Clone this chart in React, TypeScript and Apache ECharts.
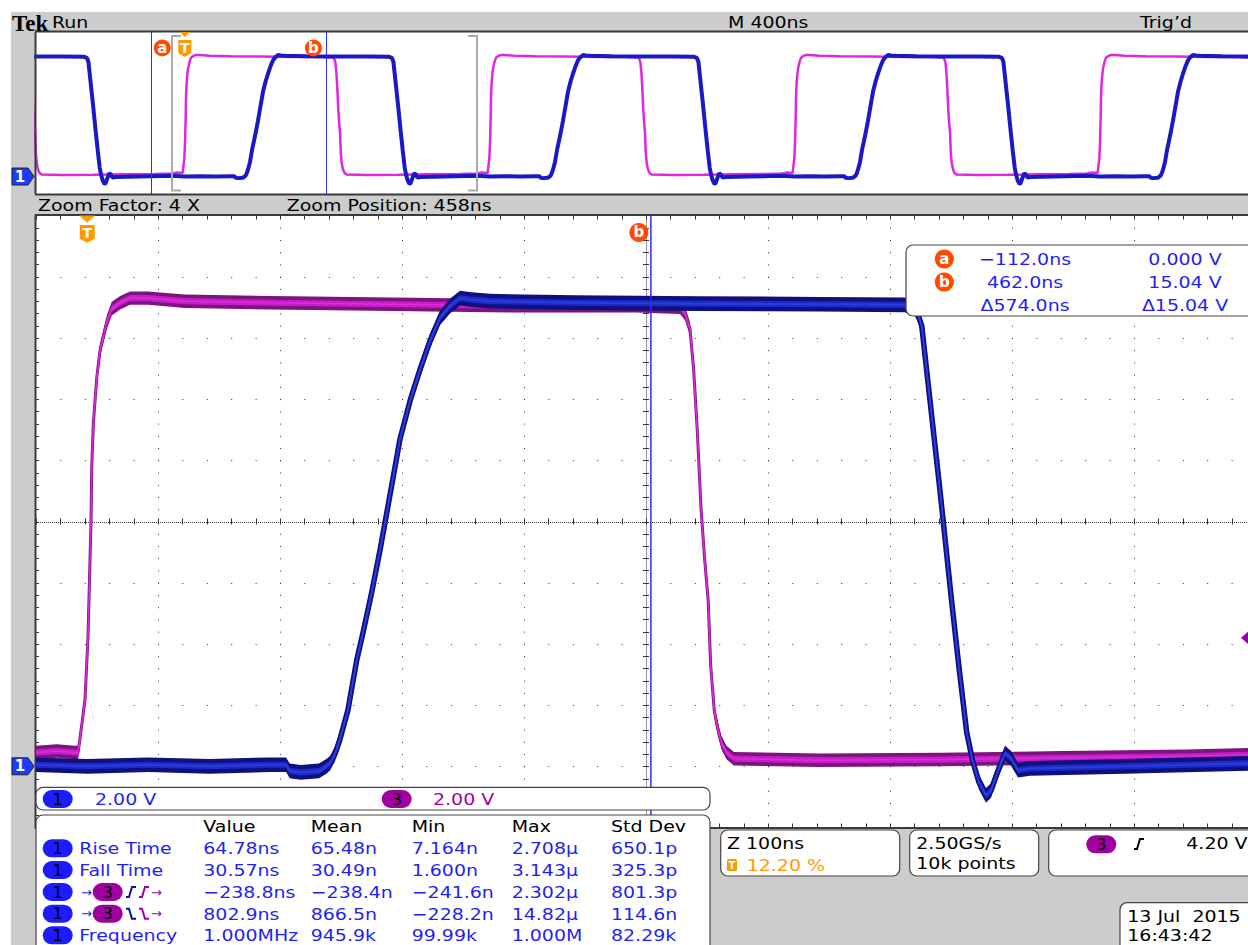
import React, { useEffect, useRef } from "react";
import * as echarts from "echarts";

// ---------------- data ----------------
// time in ns (trigger = 0), level in volts
const RECORD_START_NS = -488;
const RECORD_END_NS = 3512;
const ZOOM_START_NS = -42;
const ZOOM_END_NS = 958;
const ZOOM_CENTER_NS = 458;
const ZOOM_FACTOR = 4;
const PERIOD_NS = 1000; // 1.000 MHz
const OVERVIEW_CYCLES = [-1, 0, 1, 2, 3];
const CURSOR_A_NS = -112;
const CURSOR_B_NS = 462;
const TRIGGER_NS = 0;
const TRIGGER_LEVEL_V = 4.2;
const VOLT_MIN = -2;
const VOLT_MAX = 18;
const VOLT_CENTER = 8;
const OV_VOLT_MIN = -2.2;
const OV_VOLT_MAX = 18.2;

// Channel 3 (magenta) in the zoom window
const ch3Zoom: [number, number][] = [
  [-42, 0.45], [-25, 0.5], [-10, 0.45], [-7.5, 0.45], [-6, 0.9], [-4, 1.5], [-1.8, 2.2],
  [0.6, 4.2], [3.1, 8.0], [3.7, 9.8], [5.0, 11.2], [7.8, 12.7], [10.5, 13.6], [16, 14.5],
  [20, 14.95], [27, 15.15], [35, 15.3], [50, 15.3], [80, 15.2], [150, 15.15], [250, 15.1],
  [350, 15.05], [450, 15.05], [486, 15.0], [490, 14.8], [494, 14.3], [497, 13.0], [500, 11.0],
  [503, 8.5], [506, 6.8], [509, 5.4], [511, 3.3], [514, 1.8], [517, 1.2], [520, 0.75],
  [524, 0.45], [530, 0.25], [600, 0.2], [700, 0.22], [800, 0.28], [900, 0.33], [958, 0.38],
];

// Channel 1 (blue) in the zoom window
const ch1Zoom: [number, number][] = [
  [-42, 0.05], [0, 0.0], [50, 0.05], [100, 0.0], [150, 0.05], [163, 0.05], [166, -0.15],
  [175, -0.2], [190, -0.15], [196, 0.0], [199, 0.1], [203, 0.4], [207, 0.86], [213.7, 1.84],
  [220.9, 3.47], [226, 4.36], [233.1, 5.67], [240, 7.07], [245.5, 8.28], [256.4, 10.7],
  [265, 12.0], [272.8, 12.97], [281, 13.9], [289.1, 14.65], [297.3, 15.04], [305.5, 15.3],
  [315, 15.25], [330, 15.2], [400, 15.15], [500, 15.12], [600, 15.1], [670, 15.08],
  [678.5, 14.95], [681, 14.75], [684, 14.4], [690.8, 11.95], [699, 9.0], [708.4, 5.44],
  [714.5, 3.25], [720.9, 1.1], [725.6, 0.2], [730.9, -0.52], [736.7, -0.95], [740.8, -0.79],
  [745.7, -0.23], [752.3, 0.43], [757.2, 0.26], [762.9, -0.13], [772.8, -0.07], [850, 0.0],
  [958, 0.1],
];

const cursorRows = [
  ["a", "−112.0ns", "0.000 V"],
  ["b", "462.0ns", "15.04 V"],
  ["", "Δ574.0ns", "Δ15.04 V"],
];
const measHeaders = ["Value", "Mean", "Min", "Max", "Std Dev"];
const measNames = ["Rise Time", "Fall Time", "", "", "Frequency"];
const measValue = ["64.78ns", "30.57ns", "−238.8ns", "802.9ns", "1.000MHz"];
const measMean = ["65.48n", "30.49n", "−238.4n", "866.5n", "945.9k"];
const measMin = ["7.164n", "1.600n", "−241.6n", "−228.2n", "99.99k"];
const measMax = ["2.708µ", "3.143µ", "2.302µ", "14.82µ", "1.000M"];
const measStd = ["650.1p", "325.3p", "801.3p", "114.6n", "82.29k"];

// ---------------- styles ----------------
const FONT = '16.5px "DejaVu Sans"';
const SX = 1.15;
const GREY = "#cccccc";
const TXT_BLUE = "#1f1ff2";
const PILL_BLUE = "#1c1cff";
const PURPLE = "#a000a0";
const ORANGE = "#ff9900";
const CURSOR_RED = "#ff4a00";
const CURSOR_LINE = "#2b2bff";

function txt(x: number, y: number, text: string, fill = "#000", o: any = {}) {
  return {
    type: "text", x, y, scaleX: o.sx ?? SX, z: o.z ?? 60, silent: true,
    style: { text, fill, font: o.font ?? FONT, align: o.align ?? "left", verticalAlign: "middle" },
  };
}
function box(x: number, y: number, w: number, h: number, o: any = {}) {
  return {
    type: "rect", z: o.z ?? 55, silent: true,
    shape: { x, y, width: w, height: h, r: o.r ?? 7 },
    style: { fill: o.fill ?? "#fff", stroke: o.stroke === undefined ? "#444" : o.stroke, lineWidth: o.lw ?? 1.2 },
  };
}
function pill(x: number, y: number, color: string, label: string) {
  return [
    box(x, y - 9, 30, 18, { r: 9, fill: color, stroke: null, z: 58 }),
    txt(x + 15, y, label, "#000", { align: "center", sx: 1, z: 60 }),
  ];
}
function edge(x: number, y: number, rising: boolean, color: string) {
  const a = rising ? 5 : -5;
  return {
    type: "polyline", z: 60, silent: true,
    shape: { points: [[x, y + a], [x + 3, y + a], [x + 6, y - a], [x + 10, y - a]] },
    style: { stroke: color, lineWidth: 2, fill: null },
  };
}

// ---------------- overlay (screen furniture) ----------------
const graphics: any[] = [];
graphics.push({ type: "rect", z: 0, silent: true, shape: { x: 0, y: 0, width: 1248, height: 12 }, style: { fill: "#fff" } });
graphics.push({ type: "rect", z: 0, silent: true, shape: { x: 0, y: 0, width: 11, height: 945 }, style: { fill: "#fff" } });
graphics.push(txt(12, 23, "Tek", "#000", { font: 'bold 23px "Liberation Serif"', sx: 1 }));
graphics.push(txt(52, 22, "Run"));
graphics.push(txt(728, 22, "M 400ns"));
graphics.push(txt(1140, 22, "Trig’d"));
graphics.push(txt(38, 205, `Zoom Factor: ${ZOOM_FACTOR} X`));
graphics.push(txt(286.7, 205, `Zoom Position: ${ZOOM_CENTER_NS}ns`));

// cursor readout
graphics.push(box(906, 245, 360, 71));
cursorRows.forEach((r, i) => {
  const y = 259 + i * 23;
  if (r[0]) {
    graphics.push({ type: "circle", z: 58, silent: true, shape: { cx: 944.3, cy: y, r: 9.5 }, style: { fill: CURSOR_RED } });
    graphics.push(txt(944.3, y - 0.5, r[0], "#fff", { font: 'bold 15px "DejaVu Sans"', align: "center", sx: 1 }));
  }
  graphics.push(txt(1025, y, r[1], TXT_BLUE, { align: "center" }));
  graphics.push(txt(1185, y, r[2], TXT_BLUE, { align: "center" }));
});

// channel scale box
graphics.push(box(36, 787.3, 674, 22.7));
graphics.push(...pill(42.7, 799, PILL_BLUE, "1"));
graphics.push(txt(95, 799, "2.00 V", TXT_BLUE));
graphics.push(...pill(381.7, 799, PURPLE, "3"));
graphics.push(txt(433, 799, "2.00 V", PURPLE));

// measurement table
graphics.push(box(36, 815, 674, 150));
const colX = [203.3, 310.7, 411.7, 511.7, 611];
const rowY = [848.3, 870, 892, 913.7, 935.3];
measHeaders.forEach((h, i) => graphics.push(txt(colX[i], 826, h, "#000")));
const cols = [measValue, measMean, measMin, measMax, measStd];
rowY.forEach((y, r) => {
  graphics.push(...pill(42.7, y, PILL_BLUE, "1"));
  if (measNames[r]) {
    graphics.push(txt(79.3, y, measNames[r], TXT_BLUE));
  } else {
    const rising = r === 2;
    graphics.push(txt(81, y, "→", TXT_BLUE, { font: '13px "DejaVu Sans"', sx: 1 }));
    graphics.push(...pill(92.7, y, PURPLE, "3"));
    graphics.push(edge(126, y, rising, "#1010a0"));
    graphics.push(edge(139, y, rising, PURPLE));
    graphics.push(txt(151, y, "→", PURPLE, { font: '13px "DejaVu Sans"', sx: 1 }));
  }
  cols.forEach((c, i) => graphics.push(txt(colX[i], y, c[r], TXT_BLUE)));
});

// horizontal / acquisition / trigger / date boxes
graphics.push(box(720.7, 830, 179, 46));
graphics.push(txt(727, 843.3, "Z 100ns"));
graphics.push({ type: "rect", z: 58, silent: true, shape: { x: 727, y: 859, width: 10, height: 12, r: 1.5 }, style: { fill: ORANGE } });
graphics.push(txt(732, 865, "T", "#fff", { font: 'bold 10px "DejaVu Sans"', align: "center", sx: 1 }));
graphics.push(txt(746.7, 865, "12.20 %", ORANGE));
graphics.push(box(909.7, 830, 129, 46));
graphics.push(txt(916.3, 843.3, "2.50GS/s"));
graphics.push(txt(916.3, 863.3, "10k points"));
graphics.push(box(1048.7, 830, 230, 46));
graphics.push(...pill(1086.3, 844.3, PURPLE, "3"));
graphics.push(edge(1134, 844, true, "#000"));
graphics.push(txt(1186.3, 843.3, `${TRIGGER_LEVEL_V.toFixed(2)} V`));
graphics.push(box(1120, 902.7, 160, 60));
graphics.push(txt(1127.3, 916, "13 Jul  2015"));
graphics.push(txt(1127.3, 935, "16:43:42"));

// ---------------- custom renderers ----------------
const snap = (n: number) => Math.round(n) + 0.5;

function renderGraticule(_p: any, api: any) {
  const c = (t: number, v: number) => api.coord([t, v]);
  const [xL, yT] = c(ZOOM_START_NS, VOLT_MAX);
  const [xR, yB] = c(ZOOM_END_NS, VOLT_MIN);
  const xC = c(ZOOM_CENTER_NS, 0)[0];
  const yC = c(0, VOLT_CENTER)[1];
  const dx = c(ZOOM_START_NS + 20, 0)[0] - xL;
  const dy = c(0, 0)[1] - c(0, 0.4)[1];
  const ch: any[] = [];
  const line = (x1: number, y1: number, x2: number, y2: number, st: any = {}) =>
    ch.push({ type: "line", shape: { x1, y1, x2, y2 }, style: { stroke: "#333", lineWidth: 1, ...st } });
  for (let v = VOLT_MIN + 2; v < VOLT_MAX; v += 2) {
    if (v === VOLT_CENTER) continue;
    const y = snap(c(0, v)[1]);
    line(xL, y, xR, y, { lineDash: [1, dx - 1] });
  }
  for (let t = ZOOM_START_NS + 100; t < ZOOM_END_NS; t += 100) {
    if (t === ZOOM_CENTER_NS) continue;
    const x = snap(c(t, 0)[0]);
    line(x, yT, x, yB, { lineDash: [1, dy - 1] });
  }
  line(xL, snap(yC), xR, snap(yC), { lineDash: [1, 1] });
  line(snap(xC), yT, snap(xC), yB, { lineDash: [1, 1] });
  for (let k = 0; xL + k * dx <= xR + 0.1; k++) {
    const x = snap(xL + k * dx);
    line(x, yC - 3, x, yC + 3);
    line(x, yT, x, yT + 4);
    line(x, yB - 4, x, yB);
  }
  for (let k = 0; yT + k * dy <= yB + 0.1; k++) {
    const y = snap(yT + k * dy);
    line(xC - 3, y, xC + 3, y);
    line(xL, y, xL + 3, y);
  }
  line(xL - 1, yT - 0.5, xR, yT - 0.5, { stroke: "#3a3a3a", lineWidth: 2 });
  line(xL - 0.5, yT - 1, xL - 0.5, yB + 1, { stroke: "#3a3a3a", lineWidth: 2 });
  line(xL - 1, yB + 0.5, xR, yB + 0.5, { stroke: "#3a3a3a", lineWidth: 2 });
  return { type: "group", children: ch };
}

function renderBand(pts: [number, number][], layers: any[]) {
  return (_p: any, api: any) => {
    const children: any[] = [];
    for (const L of layers) {
      if (L.e !== undefined) {
        const up = pts.map(([t, v]) => api.coord([t, v + L.e]));
        const lo = pts.map(([t, v]) => api.coord([t, v - L.e])).reverse();
        children.push({ type: "polygon", shape: { points: up.concat(lo) }, style: { fill: L.color } });
      } else {
        children.push({
          type: "polyline", shape: { points: pts.map((p) => api.coord(p)) },
          style: { stroke: L.color, lineWidth: L.w, fill: null, lineJoin: "round" },
        });
      }
    }
    return { type: "group", children };
  };
}

function badge(x: number, y: number, r: number, letter: string) {
  return [
    { type: "circle", shape: { cx: x, cy: y, r }, style: { fill: CURSOR_RED } },
    { type: "text", x, y: y - 0.5, style: { text: letter, fill: "#fff", font: 'bold 15px "DejaVu Sans"', align: "center", verticalAlign: "middle" } },
  ];
}
function trigMark(x: number, top: number, triW: number, triH: number, gap: number, w: number, h: number) {
  const s = top + triH + gap;
  return [
    { type: "polygon", shape: { points: [[x - triW / 2, top], [x + triW / 2, top], [x, top + triH]] }, style: { fill: ORANGE } },
    { type: "polygon", shape: { points: [[x - w / 2, s], [x + w / 2, s], [x + w / 2, s + h - 4], [x, s + h], [x - w / 2, s + h - 4]] }, style: { fill: ORANGE } },
    { type: "text", x, y: s + (h - 4) / 2 + 1, style: { text: "T", fill: "#fff", font: 'bold 14px "DejaVu Sans"', align: "center", verticalAlign: "middle" } },
  ];
}
function chTag(x: number, y: number) {
  return [
    { type: "polygon", shape: { points: [[x - 24, y - 8.5], [x - 8, y - 8.5], [x - 2, y], [x - 8, y + 8.5], [x - 24, y + 8.5]] }, style: { fill: "#1c3cff", stroke: "#222", lineWidth: 1 } },
    { type: "text", x: x - 16, y, style: { text: "1", fill: "#fff", font: 'bold 15px "DejaVu Sans"', align: "center", verticalAlign: "middle" } },
  ];
}

function renderOverviewMarks(_p: any, api: any) {
  const c = (t: number, v: number) => api.coord([t, v]);
  const [xL, yT] = c(RECORD_START_NS, OV_VOLT_MAX);
  const [xR, yB] = c(RECORD_END_NS, OV_VOLT_MIN);
  const xa = c(CURSOR_A_NS, 0)[0];
  const xb = c(CURSOR_B_NS, 0)[0];
  const x0 = c(TRIGGER_NS, 0)[0];
  const zl = c(ZOOM_START_NS, 0)[0];
  const zr = c(ZOOM_END_NS, 0)[0];
  const y0 = c(0, 0)[1];
  const ch: any[] = [
    { type: "line", shape: { x1: xL - 1, y1: yT - 0.5, x2: xR, y2: yT - 0.5 }, style: { stroke: "#3a3a3a", lineWidth: 2 } },
    { type: "line", shape: { x1: xL - 1, y1: yB + 0.5, x2: xR, y2: yB + 0.5 }, style: { stroke: "#3a3a3a", lineWidth: 2 } },
    { type: "line", shape: { x1: xL - 0.5, y1: yT, x2: xL - 0.5, y2: yB }, style: { stroke: "#3a3a3a", lineWidth: 2 } },
    { type: "line", shape: { x1: snap(xa), y1: yT, x2: snap(xa), y2: yB }, style: { stroke: CURSOR_LINE, lineWidth: 1 } },
    { type: "line", shape: { x1: snap(xb), y1: yT, x2: snap(xb), y2: yB }, style: { stroke: CURSOR_LINE, lineWidth: 1 } },
    { type: "polyline", shape: { points: [[zl + 9, yT + 4], [zl, yT + 4], [zl, yB - 3.5], [zl + 9, yB - 3.5]] }, style: { stroke: "#aaaaaa", lineWidth: 2, fill: null } },
    { type: "polyline", shape: { points: [[zr - 9, yT + 4], [zr, yT + 4], [zr, yB - 3.5], [zr - 9, yB - 3.5]] }, style: { stroke: "#aaaaaa", lineWidth: 2, fill: null } },
    ...badge(xa + 11.6, yT + 16, 8.5, "a"),
    ...badge(xb - 12.3, yT + 16, 8.5, "b"),
    ...trigMark(x0, yT, 10, 5, 3, 13, 17),
    ...chTag(xL, y0),
  ];
  return { type: "group", children: ch };
}

function renderMainMarks(_p: any, api: any) {
  const c = (t: number, v: number) => api.coord([t, v]);
  const [xL, yT] = c(ZOOM_START_NS, VOLT_MAX);
  const [xR, yB] = c(ZOOM_END_NS, VOLT_MIN);
  const xb = c(CURSOR_B_NS, 0)[0];
  const x0 = c(TRIGGER_NS, 0)[0];
  const yTrig = c(0, TRIGGER_LEVEL_V)[1];
  const y0 = c(0, 0)[1];
  const ch: any[] = [
    { type: "line", shape: { x1: xb, y1: yT, x2: xb, y2: yB }, style: { stroke: CURSOR_LINE, lineWidth: 1.5 } },
    ...badge(xb - 12, yT + 17, 9.5, "b"),
    ...trigMark(x0, yT, 16, 7.2, 2.3, 15, 17.7),
    { type: "polygon", shape: { points: [[xR - 15, yTrig], [xR - 7, yTrig - 7], [xR, yTrig - 7], [xR, yTrig + 7], [xR - 7, yTrig + 7]] }, style: { fill: PURPLE } },
    ...chTag(xL, y0),
  ];
  return { type: "group", children: ch };
}

// overview traces: the zoom-window cycle repeated with the measured 1 µs period
const tile = (pts: [number, number][]) =>
  OVERVIEW_CYCLES.flatMap((k) => pts.map(([t, v]) => [t + k * PERIOD_NS, v]));

const option: any = {
  animation: false,
  backgroundColor: GREY,
  grid: [
    { left: 36, top: 32, width: 1220, height: 162, show: true, backgroundColor: "#fff", borderWidth: 0, containLabel: false, outerBoundsMode: "none" },
    { left: 36, top: 215.5, width: 1220, height: 612, show: true, backgroundColor: "#fff", borderWidth: 0, containLabel: false, outerBoundsMode: "none" },
  ],
  xAxis: [
    { gridIndex: 0, type: "value", min: RECORD_START_NS, max: RECORD_END_NS, show: false },
    { gridIndex: 1, type: "value", min: ZOOM_START_NS, max: ZOOM_END_NS, show: false },
  ],
  yAxis: [
    { gridIndex: 0, type: "value", min: OV_VOLT_MIN, max: OV_VOLT_MAX, show: false },
    { gridIndex: 1, type: "value", min: VOLT_MIN, max: VOLT_MAX, show: false },
  ],
  series: [
    { type: "custom", name: "graticule", xAxisIndex: 1, yAxisIndex: 1, z: 1, silent: true, clip: false, data: [[0, 0]], renderItem: renderGraticule },
    { type: "line", name: "CH3 record", xAxisIndex: 0, yAxisIndex: 0, z: 3, silent: true, symbol: "none", data: tile(ch3Zoom), lineStyle: { color: "#e026e0", width: 2.5 } },
    { type: "line", name: "CH1 record", xAxisIndex: 0, yAxisIndex: 0, z: 3, silent: true, symbol: "none", data: tile(ch1Zoom), lineStyle: { color: "#1a1ac4", width: 4 } },
    {
      type: "custom", name: "CH3", xAxisIndex: 1, yAxisIndex: 1, z: 3, silent: true, clip: true, data: [[0, 0]],
      renderItem: renderBand(ch3Zoom, [
        { e: 0.22, color: "#7d137d" }, { w: 3, color: "#7d137d" }, { e: 0.1, color: "#c61ec6" }, { w: 1.5, color: "#dc2cdc" },
      ]),
    },
    {
      type: "custom", name: "CH1", xAxisIndex: 1, yAxisIndex: 1, z: 4, silent: true, clip: true, data: [[0, 0]],
      renderItem: renderBand(ch1Zoom, [
        { e: 0.24, color: "#0f0f7d" }, { w: 5.5, color: "#0f0f7d" }, { e: 0.1, color: "#1d2bc4" }, { w: 2, color: "#2a3be0" },
      ]),
    },
    { type: "custom", name: "overview marks", xAxisIndex: 0, yAxisIndex: 0, z: 5, silent: true, clip: false, data: [[0, 0]], renderItem: renderOverviewMarks },
    { type: "custom", name: "zoom marks", xAxisIndex: 1, yAxisIndex: 1, z: 5, silent: true, clip: false, data: [[0, 0]], renderItem: renderMainMarks },
  ],
  graphic: graphics,
};

export default function App() {
  const ref = useRef<HTMLDivElement>(null);
  useEffect(() => {
    document.body.style.margin = "0";
    const chart = echarts.init(ref.current!, null, { renderer: "svg" });
    chart.setOption(option);
    return () => chart.dispose();
  }, []);
  return <div ref={ref} style={{ width: 1248, height: 945 }} />;
}
